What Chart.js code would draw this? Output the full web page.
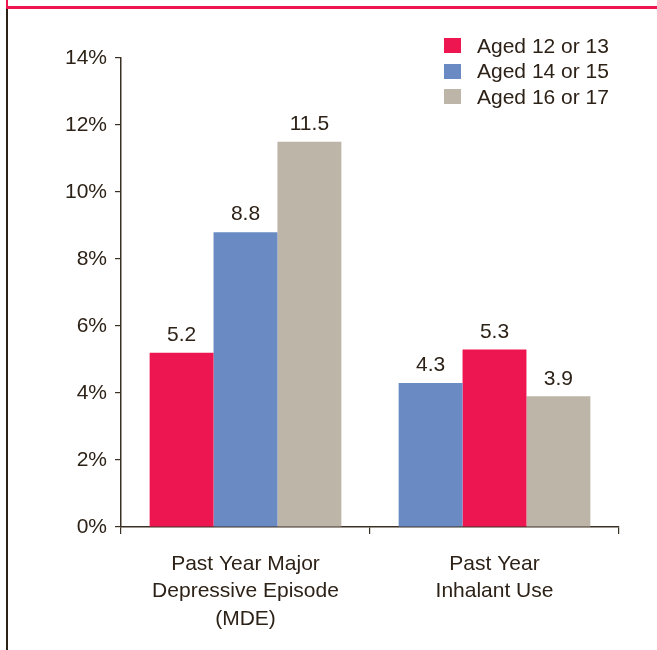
<!DOCTYPE html>
<html>
<head>
<meta charset="utf-8">
<script src="https://cdn.jsdelivr.net/npm/chart.js@4.4.1/dist/chart.umd.min.js"></script>
<style>
  html, body { margin: 0; padding: 0; background: #fff; }
  body { width: 657px; height: 650px; position: relative; overflow: hidden; font-family: "Liberation Sans", Arial, sans-serif; }
  .top-rule { position: absolute; left: 6px; top: 0; width: 651px; height: 6px; border-left: 2px solid #ee1651; border-bottom: 3px solid #ee1651; }
  .left-rule { position: absolute; left: 6px; top: 9px; width: 2px; height: 641px; background: #2d2217; }
  #chart-wrap { position: absolute; left: 0; top: 0; width: 657px; height: 650px; }
  #legend { position: absolute; left: 444px; top: 33px; color: #2d2217; font-size: 21px; }
  .legend-item { display: flex; align-items: center; height: 25.5px; }
  .legend-box { width: 17px; height: 15px; margin-right: 16px; }
</style>
</head>
<body>
<div class="top-rule"></div>
<div class="left-rule"></div>
<div id="chart-wrap"><canvas id="chart" width="657" height="650"></canvas></div>
<div id="legend"></div>
<script>
  // Data
  const categories = [
    ['Past Year Major', 'Depressive Episode', '(MDE)'],
    ['Past Year', 'Inhalant Use']
  ];
  const seriesNames = ['Aged 12 or 13', 'Aged 14 or 15', 'Aged 16 or 17'];
  // bar values in the order they are drawn in each group
  const firstBars = [5.2, 4.3];
  const secondBars = [8.8, 5.3];
  const thirdBars = [11.5, 3.9];
  const yTicks = [0, 2, 4, 6, 8, 10, 12, 14];

  // Colors
  const colors = {
    red: '#ee1651',
    blue: '#6a8ac4',
    tan: '#bdb5a8',
    text: '#2d2217',
    axis: '#3a3023'
  };
  const fontFamily = '"Liberation Sans", Arial, sans-serif';

  // In the second group the first two bars swap colours, as in the source
  const datasets = [
    { label: seriesNames[0], data: firstBars, backgroundColor: [colors.red, colors.blue] },
    { label: seriesNames[1], data: secondBars, backgroundColor: [colors.blue, colors.red] },
    { label: seriesNames[2], data: thirdBars, backgroundColor: [colors.tan, colors.tan] }
  ];
  const legendColors = [colors.red, colors.blue, colors.tan];

  // Value labels above bars
  const valueLabels = {
    id: 'valueLabels',
    afterDatasetsDraw(chart) {
      const ctx = chart.ctx;
      ctx.save();
      ctx.font = '21px ' + fontFamily;
      ctx.fillStyle = colors.text;
      ctx.textAlign = 'center';
      ctx.textBaseline = 'bottom';
      chart.data.datasets.forEach((ds, i) => {
        chart.getDatasetMeta(i).data.forEach((bar, j) => {
          ctx.fillText(ds.data[j].toFixed(1), bar.x, bar.y - 7);
        });
      });
      ctx.restore();
    }
  };

  new Chart(document.getElementById('chart').getContext('2d'), {
    type: 'bar',
    data: { labels: categories, datasets: datasets },
    options: {
      responsive: false,
      animation: false,
      layout: { padding: { top: 58, right: 38, bottom: 0, left: 0 } },
      datasets: { bar: { barPercentage: 1, categoryPercentage: 0.77, borderWidth: 0 } },
      scales: {
        x: {
          grid: { drawOnChartArea: false, drawTicks: true, tickLength: 7, color: colors.axis, lineWidth: 1.2, offset: true },
          border: { display: true, color: colors.axis, width: 1.5 },
          ticks: {
            color: colors.text,
            font: { family: fontFamily, size: 21, lineHeight: 1.29 },
            padding: 17,
            maxRotation: 0,
            autoSkip: false
          },
          afterFit(axis) { axis.height = 123; }
        },
        y: {
          min: 0,
          max: 14,
          afterBuildTicks(axis) { axis.ticks = yTicks.map(v => ({ value: v })); },
          grid: { drawOnChartArea: false, drawTicks: true, tickLength: 6, color: colors.axis, lineWidth: 1.2 },
          border: { display: true, color: colors.axis, width: 1.5 },
          ticks: {
            color: colors.text,
            font: { family: fontFamily, size: 21 },
            padding: 8,
            callback: v => v + '%'
          },
          afterFit(axis) { axis.width = 121; }
        }
      },
      plugins: {
        legend: { display: false },
        tooltip: { enabled: false }
      }
    },
    plugins: [valueLabels]
  });

  // HTML legend
  const legendEl = document.getElementById('legend');
  seriesNames.forEach((name, i) => {
    const item = document.createElement('div');
    item.className = 'legend-item';
    item.innerHTML = `<span class="legend-box" style="background:${legendColors[i]}"></span><span>${name}</span>`;
    legendEl.appendChild(item);
  });
</script>
</body>
</html>
